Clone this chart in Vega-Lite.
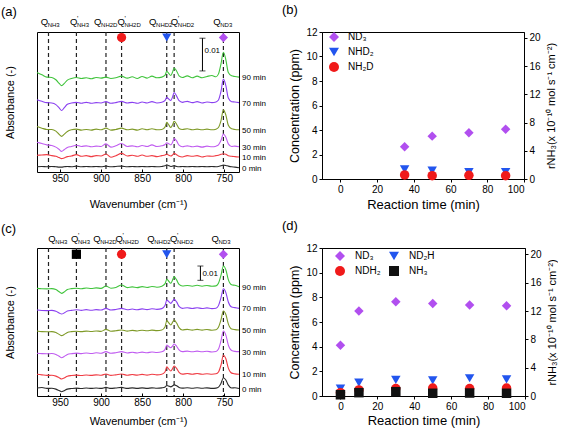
{
"$schema": "https://vega.github.io/schema/vega-lite/v6.json",
"padding": {"left": 0, "top": 3, "right": 0, "bottom": 0},
"config": {
 "font": "Liberation Sans",
 "view": {"stroke": "#000", "strokeWidth": 1},
 "axis": {"domainColor": "#000", "tickColor": "#000", "labelColor": "#000", "titleColor": "#000", "grid": false, "labelFontSize": 10, "titleFontSize": 12, "titleFontWeight": "normal", "labelFont": "Liberation Sans", "titleFont": "Liberation Sans"},
 "title": {"fontSize": 13, "fontWeight": "normal", "anchor": "start", "frame": "group", "color": "#000", "baseline": "alphabetic", "offset": 20},
 "legend": {"labelFont": "Liberation Sans", "labelFontSize": 10, "labelColor": "#000", "symbolStrokeWidth": 0}
},
"resolve": {"scale": {"color": "independent", "fill": "independent", "shape": "independent"}, "legend": {"color": "independent", "shape": "independent"}},
"bounds": "flush",
"columns": 2,
"spacing": {"row": 69, "column": 83},
"datasets": {
 "specA": [
  {"w":978,"0 min":1.6,"10 min":5.1,"30 min":9.1,"50 min":13.9,"70 min":22.1,"90 min":30.4},
  {"w":972,"0 min":1.7,"10 min":5.2,"30 min":8.7,"50 min":13.4,"70 min":21.6,"90 min":29.7},
  {"w":966,"0 min":1.6,"10 min":5.3,"30 min":8.3,"50 min":13.0,"70 min":21.2,"90 min":29.0},
  {"w":960,"0 min":1.7,"10 min":5.0,"30 min":8.1,"50 min":13.0,"70 min":21.1,"90 min":28.9},
  {"w":955,"0 min":1.6,"10 min":4.8,"30 min":7.6,"50 min":12.5,"70 min":20.6,"90 min":28.2},
  {"w":951,"0 min":1.5,"10 min":4.4,"30 min":6.9,"50 min":11.5,"70 min":19.6,"90 min":27.1},
  {"w":948,"0 min":1.5,"10 min":4.1,"30 min":6.3,"50 min":10.9,"70 min":18.8,"90 min":26.4},
  {"w":945,"0 min":1.6,"10 min":4.3,"30 min":6.8,"50 min":11.5,"70 min":19.6,"90 min":27.0},
  {"w":941,"0 min":1.7,"10 min":4.7,"30 min":7.5,"50 min":12.4,"70 min":20.7,"90 min":28.1},
  {"w":936,"0 min":1.6,"10 min":4.9,"30 min":7.8,"50 min":12.9,"70 min":21.1,"90 min":28.6},
  {"w":930,"0 min":1.8,"10 min":5.3,"30 min":8.2,"50 min":13.1,"70 min":21.3,"90 min":28.9},
  {"w":924,"0 min":1.6,"10 min":4.8,"30 min":7.8,"50 min":12.8,"70 min":21.0,"90 min":28.6},
  {"w":918,"0 min":1.7,"10 min":5.0,"30 min":8.0,"50 min":13.0,"70 min":21.3,"90 min":28.8},
  {"w":912,"0 min":1.6,"10 min":4.7,"30 min":7.7,"50 min":12.8,"70 min":21.0,"90 min":28.5},
  {"w":906,"0 min":1.7,"10 min":5.0,"30 min":7.9,"50 min":13.1,"70 min":21.2,"90 min":28.9},
  {"w":900,"0 min":1.6,"10 min":4.9,"30 min":7.8,"50 min":12.9,"70 min":21.1,"90 min":28.7},
  {"w":894,"0 min":1.8,"10 min":5.5,"30 min":8.6,"50 min":13.4,"70 min":21.5,"90 min":29.0},
  {"w":888,"0 min":1.6,"10 min":4.5,"30 min":7.6,"50 min":12.8,"70 min":21.0,"90 min":28.6},
  {"w":882,"0 min":1.7,"10 min":5.0,"30 min":8.0,"50 min":13.0,"70 min":21.2,"90 min":28.8},
  {"w":875,"0 min":1.8,"10 min":5.7,"30 min":8.7,"50 min":13.4,"70 min":21.6,"90 min":29.3},
  {"w":868,"0 min":1.6,"10 min":4.9,"30 min":7.8,"50 min":12.9,"70 min":21.1,"90 min":28.7},
  {"w":862,"0 min":1.7,"10 min":5.1,"30 min":8.0,"50 min":13.1,"70 min":21.3,"90 min":29.1},
  {"w":856,"0 min":1.6,"10 min":4.8,"30 min":7.7,"50 min":12.8,"70 min":21.0,"90 min":28.6},
  {"w":850,"0 min":1.7,"10 min":5.2,"30 min":8.1,"50 min":13.2,"70 min":21.4,"90 min":29.2},
  {"w":844,"0 min":1.6,"10 min":4.8,"30 min":7.8,"50 min":12.9,"70 min":21.1,"90 min":28.7},
  {"w":838,"0 min":1.7,"10 min":5.0,"30 min":8.3,"50 min":13.2,"70 min":21.5,"90 min":29.3},
  {"w":832,"0 min":1.6,"10 min":4.7,"30 min":7.8,"50 min":12.9,"70 min":21.1,"90 min":28.8},
  {"w":826,"0 min":1.7,"10 min":5.0,"30 min":8.0,"50 min":13.0,"70 min":21.3,"90 min":29.0},
  {"w":822,"0 min":1.9,"10 min":5.2,"30 min":8.4,"50 min":13.8,"70 min":21.9,"90 min":29.6},
  {"w":820,"0 min":2.2,"10 min":5.5,"30 min":8.9,"50 min":15.2,"70 min":22.8,"90 min":30.8},
  {"w":818,"0 min":2.0,"10 min":5.2,"30 min":8.7,"50 min":14.6,"70 min":22.4,"90 min":30.3},
  {"w":815,"0 min":1.7,"10 min":4.9,"30 min":8.3,"50 min":13.6,"70 min":21.9,"90 min":29.5},
  {"w":813,"0 min":1.8,"10 min":5.2,"30 min":9.0,"50 min":14.4,"70 min":22.9,"90 min":30.5},
  {"w":811,"0 min":1.9,"10 min":5.7,"30 min":10.2,"50 min":15.5,"70 min":24.3,"90 min":31.8},
  {"w":808,"0 min":1.7,"10 min":5.3,"30 min":9.5,"50 min":14.6,"70 min":23.2,"90 min":30.9},
  {"w":805,"0 min":1.6,"10 min":4.8,"30 min":8.2,"50 min":13.3,"70 min":21.8,"90 min":29.4},
  {"w":801,"0 min":1.7,"10 min":4.6,"30 min":7.7,"50 min":13.0,"70 min":21.3,"90 min":28.9},
  {"w":795,"0 min":1.6,"10 min":5.0,"30 min":8.0,"50 min":13.2,"70 min":21.6,"90 min":29.4},
  {"w":789,"0 min":1.7,"10 min":4.8,"30 min":7.7,"50 min":12.9,"70 min":21.2,"90 min":28.8},
  {"w":783,"0 min":1.6,"10 min":5.0,"30 min":7.9,"50 min":13.1,"70 min":21.5,"90 min":29.3},
  {"w":777,"0 min":1.7,"10 min":4.6,"30 min":7.6,"50 min":12.9,"70 min":21.1,"90 min":28.8},
  {"w":771,"0 min":1.6,"10 min":4.9,"30 min":7.9,"50 min":13.1,"70 min":21.4,"90 min":29.2},
  {"w":765,"0 min":1.7,"10 min":4.8,"30 min":7.7,"50 min":12.9,"70 min":21.2,"90 min":29.5},
  {"w":760,"0 min":1.6,"10 min":5.0,"30 min":7.9,"50 min":13.1,"70 min":21.4,"90 min":29.1},
  {"w":757,"0 min":1.7,"10 min":5.1,"30 min":8.3,"50 min":13.6,"70 min":22.0,"90 min":30.0},
  {"w":754,"0 min":1.9,"10 min":5.4,"30 min":9.6,"50 min":15.6,"70 min":24.6,"90 min":33.0},
  {"w":751,"0 min":2.1,"10 min":5.6,"30 min":11.6,"50 min":19.0,"70 min":28.4,"90 min":36.6},
  {"w":748,"0 min":2.0,"10 min":5.4,"30 min":10.6,"50 min":17.4,"70 min":26.4,"90 min":34.3},
  {"w":745,"0 min":1.8,"10 min":5.0,"30 min":8.6,"50 min":14.3,"70 min":22.6,"90 min":30.4},
  {"w":741,"0 min":1.6,"10 min":4.8,"30 min":7.8,"50 min":13.2,"70 min":21.5,"90 min":29.4},
  {"w":737,"0 min":1.5,"10 min":4.7,"30 min":7.9,"50 min":13.0,"70 min":21.4,"90 min":29.2},
  {"w":732,"0 min":1.3,"10 min":4.6,"30 min":7.7,"50 min":12.9,"70 min":21.2,"90 min":29.0}
 ],
 "specC": [
  {"w":978,"0 min":5.6,"10 min":15.2,"30 min":29.9,"50 min":45.5,"70 min":60.1,"90 min":75.3},
  {"w":972,"0 min":5.9,"10 min":14.8,"30 min":29.6,"50 min":45.0,"70 min":59.8,"90 min":75.0},
  {"w":966,"0 min":5.3,"10 min":14.4,"30 min":29.5,"50 min":44.9,"70 min":59.7,"90 min":74.9},
  {"w":960,"0 min":5.4,"10 min":14.5,"30 min":29.7,"50 min":45.0,"70 min":59.9,"90 min":75.1},
  {"w":955,"0 min":4.8,"10 min":13.9,"30 min":29.1,"50 min":44.4,"70 min":59.3,"90 min":74.4},
  {"w":951,"0 min":3.8,"10 min":12.8,"30 min":27.8,"50 min":43.1,"70 min":58.1,"90 min":72.9},
  {"w":948,"0 min":3.0,"10 min":11.9,"30 min":26.8,"50 min":42.2,"70 min":57.3,"90 min":71.8},
  {"w":945,"0 min":3.7,"10 min":12.6,"30 min":27.6,"50 min":43.0,"70 min":58.0,"90 min":72.7},
  {"w":941,"0 min":4.8,"10 min":13.8,"30 min":29.0,"50 min":44.4,"70 min":59.4,"90 min":74.4},
  {"w":936,"0 min":5.2,"10 min":14.3,"30 min":29.6,"50 min":45.0,"70 min":59.9,"90 min":75.1},
  {"w":930,"0 min":5.5,"10 min":14.6,"30 min":30.0,"50 min":45.3,"70 min":60.3,"90 min":75.4},
  {"w":924,"0 min":5.2,"10 min":14.3,"30 min":29.6,"50 min":45.0,"70 min":59.9,"90 min":75.0},
  {"w":918,"0 min":5.6,"10 min":14.7,"30 min":30.1,"50 min":45.4,"70 min":60.4,"90 min":75.5},
  {"w":912,"0 min":5.3,"10 min":14.4,"30 min":29.7,"50 min":45.1,"70 min":60.0,"90 min":75.2},
  {"w":906,"0 min":5.6,"10 min":14.8,"30 min":30.2,"50 min":45.5,"70 min":60.4,"90 min":75.6},
  {"w":900,"0 min":5.3,"10 min":14.5,"30 min":29.9,"50 min":45.2,"70 min":60.1,"90 min":75.3},
  {"w":894,"0 min":6.0,"10 min":15.4,"30 min":31.0,"50 min":46.6,"70 min":61.3,"90 min":76.9},
  {"w":888,"0 min":5.3,"10 min":14.4,"30 min":29.9,"50 min":45.3,"70 min":60.1,"90 min":75.4},
  {"w":882,"0 min":5.6,"10 min":14.8,"30 min":30.3,"50 min":45.6,"70 min":60.5,"90 min":75.9},
  {"w":875,"0 min":6.0,"10 min":15.4,"30 min":31.0,"50 min":46.2,"70 min":61.3,"90 min":77.6},
  {"w":868,"0 min":5.3,"10 min":14.5,"30 min":30.1,"50 min":45.4,"70 min":60.3,"90 min":75.8},
  {"w":862,"0 min":5.7,"10 min":15.0,"30 min":30.6,"50 min":45.9,"70 min":60.8,"90 min":76.3},
  {"w":856,"0 min":5.3,"10 min":14.6,"30 min":30.1,"50 min":45.5,"70 min":60.3,"90 min":75.8},
  {"w":850,"0 min":5.7,"10 min":15.1,"30 min":30.7,"50 min":46.0,"70 min":60.9,"90 min":76.5},
  {"w":844,"0 min":5.3,"10 min":14.6,"30 min":30.2,"50 min":45.6,"70 min":60.4,"90 min":75.9},
  {"w":838,"0 min":5.7,"10 min":15.2,"30 min":30.8,"50 min":46.1,"70 min":61.0,"90 min":76.6},
  {"w":832,"0 min":5.4,"10 min":14.8,"30 min":30.4,"50 min":45.7,"70 min":60.6,"90 min":76.1},
  {"w":826,"0 min":5.7,"10 min":15.2,"30 min":30.9,"50 min":46.2,"70 min":61.1,"90 min":76.8},
  {"w":822,"0 min":6.3,"10 min":17.0,"30 min":32.6,"50 min":48.5,"70 min":63.4,"90 min":78.6},
  {"w":820,"0 min":7.3,"10 min":20.5,"30 min":35.7,"50 min":52.7,"70 min":67.1,"90 min":81.6},
  {"w":818,"0 min":7.0,"10 min":19.2,"30 min":34.8,"50 min":51.5,"70 min":66.3,"90 min":80.6},
  {"w":815,"0 min":6.4,"10 min":17.5,"30 min":33.8,"50 min":49.7,"70 min":64.8,"90 min":78.8},
  {"w":813,"0 min":7.0,"10 min":19.0,"30 min":34.9,"50 min":51.5,"70 min":66.2,"90 min":81.0},
  {"w":811,"0 min":7.8,"10 min":21.0,"30 min":36.4,"50 min":53.1,"70 min":67.6,"90 min":83.4},
  {"w":808,"0 min":7.2,"10 min":19.3,"30 min":34.8,"50 min":51.0,"70 min":65.8,"90 min":81.2},
  {"w":805,"0 min":6.0,"10 min":16.6,"30 min":32.2,"50 min":47.8,"70 min":62.6,"90 min":78.0},
  {"w":801,"0 min":5.5,"10 min":15.3,"30 min":31.0,"50 min":46.2,"70 min":61.3,"90 min":76.9},
  {"w":795,"0 min":5.8,"10 min":15.7,"30 min":31.4,"50 min":46.6,"70 min":61.7,"90 min":77.3},
  {"w":789,"0 min":5.4,"10 min":15.2,"30 min":30.9,"50 min":46.1,"70 min":61.2,"90 min":76.8},
  {"w":783,"0 min":5.8,"10 min":15.7,"30 min":31.4,"50 min":46.6,"70 min":61.7,"90 min":77.4},
  {"w":777,"0 min":5.4,"10 min":15.2,"30 min":30.9,"50 min":46.1,"70 min":61.2,"90 min":76.8},
  {"w":771,"0 min":5.7,"10 min":15.6,"30 min":31.3,"50 min":46.5,"70 min":61.6,"90 min":77.3},
  {"w":765,"0 min":5.3,"10 min":15.2,"30 min":30.8,"50 min":46.0,"70 min":61.1,"90 min":76.7},
  {"w":760,"0 min":5.5,"10 min":15.5,"30 min":31.1,"50 min":46.3,"70 min":61.4,"90 min":77.0},
  {"w":757,"0 min":6.2,"10 min":16.8,"30 min":32.8,"50 min":48.0,"70 min":63.2,"90 min":78.8},
  {"w":754,"0 min":8.8,"10 min":21.5,"30 min":38.5,"50 min":53.2,"70 min":68.6,"90 min":84.3},
  {"w":751,"0 min":12.8,"10 min":28.5,"30 min":45.5,"50 min":59.4,"70 min":75.0,"90 min":90.9},
  {"w":748,"0 min":11.2,"10 min":26.0,"30 min":42.6,"50 min":57.0,"70 min":72.3,"90 min":88.2},
  {"w":745,"0 min":7.6,"10 min":19.5,"30 min":35.6,"50 min":50.4,"70 min":65.7,"90 min":81.4},
  {"w":741,"0 min":5.6,"10 min":16.0,"30 min":31.8,"50 min":46.8,"70 min":62.2,"90 min":77.8},
  {"w":737,"0 min":5.8,"10 min":15.5,"30 min":31.2,"50 min":46.4,"70 min":61.8,"90 min":77.4},
  {"w":732,"0 min":5.2,"10 min":15.2,"30 min":31.0,"50 min":46.2,"70 min":61.3,"90 min":76.4}
 ],
 "lines": [{"w":964},{"w":930},{"w":894},{"w":875},{"w":820},{"w":811},{"w":751}],
 "qA": [
  {"w":973.5,"s":"NH3","p":""},{"w":937.8,"s":"NH3","p":"'"},{"w":908.5,"s":"NH2D","p":""},{"w":880.1,"s":"NH2D","p":"'"},
  {"w":841.5,"s":"NHD2","p":""},{"w":815,"s":"NHD2","p":"'"},{"w":763.4,"s":"ND3","p":""}
 ],
 "qC": [
  {"w":964.2,"s":"NH3","p":""},{"w":936.6,"s":"NH3","p":"'"},{"w":909.5,"s":"NH2D","p":""},{"w":882.3,"s":"NH2D","p":"'"},
  {"w":843.7,"s":"NHD2","p":""},{"w":816.1,"s":"NHD2","p":"'"},{"w":765.5,"s":"ND3","p":""}
 ],
 "scatB": [
  {"time":35,"c":2.63,"sp":"ND₃"},{"time":50,"c":3.5,"sp":"ND₃"},{"time":70,"c":3.77,"sp":"ND₃"},{"time":90,"c":4.07,"sp":"ND₃"},
  {"time":35,"c":0.79,"sp":"NHD₂"},{"time":50,"c":0.68,"sp":"NHD₂"},{"time":70,"c":0.57,"sp":"NHD₂"},{"time":90,"c":0.57,"sp":"NHD₂"},
  {"time":35,"c":0.33,"sp":"NH₂D"},{"time":50,"c":0.27,"sp":"NH₂D"},{"time":70,"c":0.3,"sp":"NH₂D"},{"time":90,"c":0.27,"sp":"NH₂D"}
 ],
 "scatD": [
  {"time":0,"c":4.12,"sp":"ND₃"},{"time":10,"c":6.9,"sp":"ND₃"},{"time":30,"c":7.64,"sp":"ND₃"},{"time":50,"c":7.5,"sp":"ND₃"},{"time":70,"c":7.37,"sp":"ND₃"},{"time":90,"c":7.31,"sp":"ND₃"},
  {"time":0,"c":0.6,"sp":"ND₂H"},{"time":10,"c":1.08,"sp":"ND₂H"},{"time":30,"c":1.3,"sp":"ND₂H"},{"time":50,"c":1.27,"sp":"ND₂H"},{"time":70,"c":1.44,"sp":"ND₂H"},{"time":90,"c":1.35,"sp":"ND₂H"},
  {"time":0,"c":0.27,"sp":"NDH₂"},{"time":10,"c":0.49,"sp":"NDH₂"},{"time":30,"c":0.6,"sp":"NDH₂"},{"time":50,"c":0.65,"sp":"NDH₂"},{"time":70,"c":0.6,"sp":"NDH₂"},{"time":90,"c":0.65,"sp":"NDH₂"},
  {"time":0,"c":0.1,"sp":"NH₃"},{"time":10,"c":0.27,"sp":"NH₃"},{"time":30,"c":0.35,"sp":"NH₃"},{"time":50,"c":0.22,"sp":"NH₃"},{"time":70,"c":0.24,"sp":"NH₃"},{"time":90,"c":0.22,"sp":"NH₃"}
 ]
},
"concat": [
 {
  "width": 202, "height": 140,
  "title": {"text": "(a)", "dx": -36, "offset": -4},
  "layer": [
   {"data": {"name": "lines"}, "mark": {"type": "rule", "strokeDash": [4, 3], "strokeWidth": 1.2, "color": "#222"},
    "encoding": {"x": {"field": "w", "type": "quantitative"}}},
   {"data": {"name": "specA"},
    "transform": [{"fold": ["0 min", "10 min", "30 min", "50 min", "70 min", "90 min"], "as": ["t", "a"]}],
    "mark": {"type": "line", "strokeWidth": 1.1, "interpolate": "monotone"},
    "encoding": {
     "x": {"field": "w", "type": "quantitative", "scale": {"domain": [732, 978], "reverse": true, "nice": false, "zero": false},
       "axis": {"title": "Wavenumber (cm⁻¹)", "values": [975, 950, 925, 900, 875, 850, 825, 800, 775, 750], "labelExpr": "datum.value % 50 == 0 ? datum.label : ''", "tickSize": -3, "labelPadding": 4, "domain": false, "titleFontSize": 11, "titlePadding": 15}},
     "y": {"field": "a", "type": "quantitative", "scale": {"domain": [0, 42.8], "nice": false, "zero": false},
       "axis": {"title": "Absorbance (-)", "labels": false, "ticks": false, "domain": false, "titlePadding": 22, "titleFontSize": 11}},
     "color": {"field": "t", "type": "nominal", "scale": {"domain": ["0 min", "10 min", "30 min", "50 min", "70 min", "90 min"], "range": ["#2a2a2a", "#f03c44", "#c05cf0", "#7f9a28", "#8a40f0", "#40c43c"]}, "legend": null}
    }},
   {"data": {"name": "specA"},
    "transform": [{"fold": ["0 min", "10 min", "30 min", "50 min", "70 min", "90 min"], "as": ["t", "a"]}, {"filter": "datum.w == 732"}],
    "mark": {"type": "text", "align": "left", "baseline": "middle", "dx": 3, "dy": 1, "fontSize": 8, "color": "#000"},
    "encoding": {"x": {"field": "w", "type": "quantitative"}, "y": {"field": "a", "type": "quantitative"}, "text": {"field": "t"}}},
   {"data": {"values": [{"w": 875, "sp": "NH2D"}, {"w": 820, "sp": "NHD2"}, {"w": 751, "sp": "ND3"}]},
    "mark": {"type": "point", "filled": true, "size": 85, "strokeWidth": 0, "opacity": 1},
    "encoding": {"x": {"field": "w", "type": "quantitative"}, "y": {"datum": 41.1},
     "shape": {"field": "sp", "type": "nominal", "scale": {"domain": ["ND3", "NHD2", "NH2D", "NH3"], "range": ["diamond", "triangle-down", "circle", "square"]}, "legend": null},
     "fill": {"field": "sp", "type": "nominal", "scale": {"domain": ["ND3", "NHD2", "NH2D", "NH3"], "range": ["#b14fef", "#2255ee", "#f01a1a", "#000000"]}, "legend": null}}},
   {"data": {"name": "qA"}, "mark": {"type": "text", "text": "Q", "align": "left", "baseline": "alphabetic", "fontSize": 9.5, "color": "#000"},
    "encoding": {"x": {"field": "w", "type": "quantitative"}, "y": {"datum": 45}}},
   {"data": {"name": "qA"}, "mark": {"type": "text", "align": "left", "baseline": "alphabetic", "fontSize": 6, "dx": 7, "dy": 2.5, "color": "#000"},
    "encoding": {"x": {"field": "w", "type": "quantitative"}, "y": {"datum": 45}, "text": {"field": "s"}}},
   {"data": {"name": "qA"}, "transform": [{"filter": "datum.p != ''"}], "mark": {"type": "text", "align": "left", "baseline": "alphabetic", "fontSize": 7, "dx": 7, "dy": -4, "color": "#000"},
    "encoding": {"x": {"field": "w", "type": "quantitative"}, "y": {"datum": 45}, "text": {"field": "p"}}},
   {"data": {"values": [{}]}, "mark": {"type": "rule", "strokeWidth": 1, "color": "#000"},
    "encoding": {"x": {"datum": 776.5}, "y": {"datum": 30.9}, "y2": {"datum": 40.9}}},
   {"data": {"values": [{}]}, "mark": {"type": "tick", "orient": "horizontal", "size": 6, "thickness": 1, "color": "#000"},
    "encoding": {"x": {"datum": 776.5}, "y": {"datum": 30.9}}},
   {"data": {"values": [{}]}, "mark": {"type": "tick", "orient": "horizontal", "size": 6, "thickness": 1, "color": "#000"},
    "encoding": {"x": {"datum": 776.5}, "y": {"datum": 40.9}}},
   {"data": {"values": [{}]}, "mark": {"type": "text", "text": "0.01", "align": "left", "baseline": "middle", "dx": 2, "fontSize": 8, "color": "#000"},
    "encoding": {"x": {"datum": 776.5}, "y": {"datum": 36.9}}}
  ]
 },
 {
  "width": 202, "height": 147,
  "title": {"text": "(b)", "dx": -40, "offset": 10},
  "layer": [
   {"data": {"name": "scatB"},
    "mark": {"type": "point", "filled": true, "size": 90, "opacity": 1, "strokeWidth": 0},
    "encoding": {
     "x": {"field": "time", "type": "quantitative", "scale": {"domain": [-10, 100], "nice": false, "zero": false},
       "axis": {"title": "Reaction time (min)", "values": [0, 20, 40, 60, 80, 100], "tickSize": 3, "labelPadding": 2, "titleFontSize": 13, "titlePadding": 4}},
     "y": {"field": "c", "type": "quantitative", "scale": {"domain": [0, 12], "nice": false},
       "axis": {"title": "Concentration (ppm)", "values": [0, 2, 4, 6, 8, 10, 12], "tickSize": 3, "labelPadding": 2, "titleFontSize": 12.5, "titlePadding": 4}},
     "shape": {"field": "sp", "type": "nominal", "scale": {"domain": ["ND₃", "NHD₂", "NH₂D"], "range": ["diamond", "triangle-down", "circle"]},
       "legend": {"title": null, "orient": "none", "legendX": 7, "legendY": 0, "padding": 0, "rowPadding": 5, "symbolSize": 100, "labelOffset": 9}},
     "color": {"field": "sp", "type": "nominal", "scale": {"domain": ["ND₃", "NHD₂", "NH₂D"], "range": ["#b14fef", "#2255ee", "#f01a1a"]},
       "legend": {"title": null, "orient": "none", "legendX": 7, "legendY": 0, "padding": 0, "rowPadding": 5, "symbolSize": 100, "labelOffset": 9}}
    }},
   {"data": {"values": [{}]}, "mark": {"type": "rule", "opacity": 0},
    "encoding": {"y": {"datum": 0, "type": "quantitative", "scale": {"domain": [0, 20.85], "nice": false},
      "axis": {"orient": "right", "title": "rNH₃(x 10⁻¹⁰ mol s⁻¹ cm⁻²)", "titleAngle": 270, "titleBaseline": "top", "values": [0, 4, 8, 12, 16, 20], "tickSize": 3, "labelPadding": 2, "titleFontSize": 11, "titlePadding": 5}}}}
  ],
  "resolve": {"scale": {"y": "independent"}, "axis": {"y": "independent"}}
 },
 {
  "width": 202, "height": 148,
  "title": {"text": "(c)", "dx": -36, "offset": -4},
  "layer": [
   {"data": {"name": "lines"}, "mark": {"type": "rule", "strokeDash": [4, 3], "strokeWidth": 1.2, "color": "#222"},
    "encoding": {"x": {"field": "w", "type": "quantitative"}}},
   {"data": {"name": "specC"},
    "transform": [{"fold": ["0 min", "10 min", "30 min", "50 min", "70 min", "90 min"], "as": ["t", "a"]}],
    "mark": {"type": "line", "strokeWidth": 1.1, "interpolate": "monotone"},
    "encoding": {
     "x": {"field": "w", "type": "quantitative", "scale": {"domain": [732, 978], "reverse": true, "nice": false, "zero": false},
       "axis": {"title": "Wavenumber (cm⁻¹)", "values": [975, 950, 925, 900, 875, 850, 825, 800, 775, 750], "labelExpr": "datum.value % 50 == 0 ? datum.label : ''", "tickSize": -3, "labelPadding": 4, "domain": false, "titleFontSize": 11, "titlePadding": 8}},
     "y": {"field": "a", "type": "quantitative", "scale": {"domain": [0, 103.5], "nice": false, "zero": false},
       "axis": {"title": "Absorbance (-)", "labels": false, "ticks": false, "domain": false, "titlePadding": 22, "titleFontSize": 11}},
     "color": {"field": "t", "type": "nominal", "scale": {"domain": ["0 min", "10 min", "30 min", "50 min", "70 min", "90 min"], "range": ["#2a2a2a", "#f03c44", "#c05cf0", "#7f9a28", "#8a40f0", "#40c43c"]}, "legend": null}
    }},
   {"data": {"name": "specC"},
    "transform": [{"fold": ["0 min", "10 min", "30 min", "50 min", "70 min", "90 min"], "as": ["t", "a"]}, {"filter": "datum.w == 732"}],
    "mark": {"type": "text", "align": "left", "baseline": "middle", "dx": 3, "dy": 1, "fontSize": 8, "color": "#000"},
    "encoding": {"x": {"field": "w", "type": "quantitative"}, "y": {"field": "a", "type": "quantitative"}, "text": {"field": "t"}}},
   {"data": {"values": [{"w": 930, "sp": "NH3"}, {"w": 875, "sp": "NH2D"}, {"w": 820, "sp": "NHD2"}, {"w": 751, "sp": "ND3"}]},
    "mark": {"type": "point", "filled": true, "size": 85, "strokeWidth": 0, "opacity": 1},
    "encoding": {"x": {"field": "w", "type": "quantitative"}, "y": {"datum": 99.1},
     "shape": {"field": "sp", "type": "nominal", "scale": {"domain": ["ND3", "NHD2", "NH2D", "NH3"], "range": ["diamond", "triangle-down", "circle", "square"]}, "legend": null},
     "fill": {"field": "sp", "type": "nominal", "scale": {"domain": ["ND3", "NHD2", "NH2D", "NH3"], "range": ["#b14fef", "#2255ee", "#f01a1a", "#000000"]}, "legend": null}}},
   {"data": {"name": "qC"}, "mark": {"type": "text", "text": "Q", "align": "left", "baseline": "alphabetic", "fontSize": 9.5, "color": "#000"},
    "encoding": {"x": {"field": "w", "type": "quantitative"}, "y": {"datum": 107.7}}},
   {"data": {"name": "qC"}, "mark": {"type": "text", "align": "left", "baseline": "alphabetic", "fontSize": 6, "dx": 7, "dy": 2.5, "color": "#000"},
    "encoding": {"x": {"field": "w", "type": "quantitative"}, "y": {"datum": 107.7}, "text": {"field": "s"}}},
   {"data": {"name": "qC"}, "transform": [{"filter": "datum.p != ''"}], "mark": {"type": "text", "align": "left", "baseline": "alphabetic", "fontSize": 7, "dx": 7, "dy": -4, "color": "#000"},
    "encoding": {"x": {"field": "w", "type": "quantitative"}, "y": {"datum": 107.7}, "text": {"field": "p"}}},
   {"data": {"values": [{}]}, "mark": {"type": "rule", "strokeWidth": 1, "color": "#000"},
    "encoding": {"x": {"datum": 779}, "y": {"datum": 80.9}, "y2": {"datum": 90.9}}},
   {"data": {"values": [{}]}, "mark": {"type": "tick", "orient": "horizontal", "size": 6, "thickness": 1, "color": "#000"},
    "encoding": {"x": {"datum": 779}, "y": {"datum": 80.9}}},
   {"data": {"values": [{}]}, "mark": {"type": "tick", "orient": "horizontal", "size": 6, "thickness": 1, "color": "#000"},
    "encoding": {"x": {"datum": 779}, "y": {"datum": 90.9}}},
   {"data": {"values": [{}]}, "mark": {"type": "text", "text": "0.01", "align": "left", "baseline": "middle", "dx": 2, "fontSize": 8, "color": "#000"},
    "encoding": {"x": {"datum": 779}, "y": {"datum": 85.1}}}
  ]
 },
 {
  "width": 203, "height": 148,
  "title": {"text": "(d)", "dx": -40, "offset": 10},
  "layer": [
   {"data": {"name": "scatD"},
    "mark": {"type": "point", "filled": true, "size": 90, "opacity": 1, "strokeWidth": 0},
    "encoding": {
     "x": {"field": "time", "type": "quantitative", "scale": {"domain": [-10, 100], "nice": false, "zero": false},
       "axis": {"title": "Reaction time (min)", "values": [0, 20, 40, 60, 80, 100], "tickSize": 3, "labelPadding": 2, "titleFontSize": 13, "titlePadding": 3}},
     "y": {"field": "c", "type": "quantitative", "scale": {"domain": [0, 12], "nice": false},
       "axis": {"title": "Concentration (ppm)", "values": [0, 2, 4, 6, 8, 10, 12], "tickSize": 3, "labelPadding": 2, "titleFontSize": 12.5, "titlePadding": 4}},
     "shape": {"field": "sp", "type": "nominal", "scale": {"domain": ["ND₃", "ND₂H", "NDH₂", "NH₃"], "range": ["diamond", "triangle-down", "circle", "square"]},
       "legend": {"title": null, "orient": "none", "legendX": 13, "legendY": 3, "columns": 2, "direction": "horizontal", "padding": 0, "rowPadding": 5, "columnPadding": 8, "symbolSize": 100, "labelOffset": 10}},
     "color": {"field": "sp", "type": "nominal", "scale": {"domain": ["ND₃", "ND₂H", "NDH₂", "NH₃"], "range": ["#b14fef", "#2255ee", "#f01a1a", "#111111"]},
       "legend": {"title": null, "orient": "none", "legendX": 13, "legendY": 3, "columns": 2, "direction": "horizontal", "padding": 0, "rowPadding": 5, "columnPadding": 8, "symbolSize": 100, "labelOffset": 10}}
    }},
   {"data": {"values": [{}]}, "mark": {"type": "rule", "opacity": 0},
    "encoding": {"y": {"datum": 0, "type": "quantitative", "scale": {"domain": [0, 20.9], "nice": false},
      "axis": {"orient": "right", "title": "rNH₃(x 10⁻¹⁰ mol s⁻¹ cm⁻²)", "titleAngle": 270, "titleBaseline": "top", "values": [0, 4, 8, 12, 16, 20], "tickSize": 3, "labelPadding": 2, "titleFontSize": 11, "titlePadding": 5}}}}
  ],
  "resolve": {"scale": {"y": "independent"}, "axis": {"y": "independent"}}
 }
]
}
